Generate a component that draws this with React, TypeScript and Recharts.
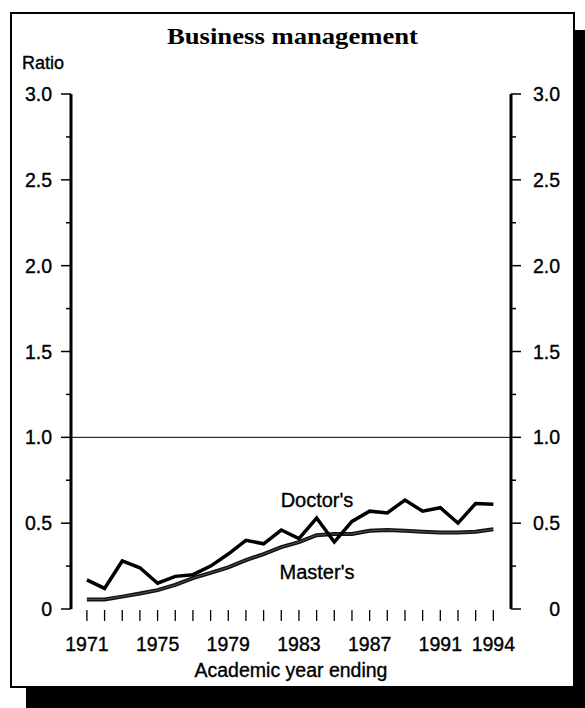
import { LineChart, Line, XAxis, YAxis, ReferenceLine } from "recharts";

const years = [
  1971, 1972, 1973, 1974, 1975, 1976, 1977, 1978, 1979, 1980, 1981, 1982,
  1983, 1984, 1985, 1986, 1987, 1988, 1989, 1990, 1991, 1992, 1993, 1994,
];
const doctors = [
  0.17, 0.12, 0.28, 0.24, 0.15, 0.19, 0.2, 0.25, 0.32, 0.4, 0.38, 0.46,
  0.41, 0.53, 0.39, 0.51, 0.57, 0.56, 0.635, 0.57, 0.59, 0.5, 0.615, 0.61,
];
const masters = [
  0.056, 0.056, 0.072, 0.09, 0.11, 0.14, 0.18, 0.21, 0.243, 0.285, 0.32, 0.36,
  0.39, 0.43, 0.437, 0.437, 0.456, 0.46, 0.456, 0.45, 0.445, 0.445, 0.45, 0.464,
];
const yearLabels = [1971, 1975, 1979, 1983, 1987, 1991, 1994];
const ratioTicks = [0, 0.25, 0.5, 0.75, 1, 1.25, 1.5, 1.75, 2, 2.25, 2.5, 2.75, 3];

const data = years.map((year, i) => ({
  year,
  doctors: doctors[i],
  masters: masters[i],
}));

const SANS = "'Liberation Sans', Arial, Helvetica, sans-serif";
const SERIF = "'Liberation Serif', 'Times New Roman', serif";
// scanned print looks a bit heavier than plain Liberation Sans
const ink = { fill: "#000", stroke: "#000", strokeWidth: 0.35 };

const isMajor = (v: number) => Math.abs(v * 2 - Math.round(v * 2)) < 1e-6;
const fmt = (v: number) => (v === 0 ? "0" : v.toFixed(1));

// x is the outer end of the tick (axis x - 10)
function LeftTick(props: any) {
  const { x, y, payload } = props;
  const v = payload.value;
  const major = isMajor(v);
  return (
    <g>
      <line x1={major ? x : x + 5} x2={x + 10} y1={y} y2={y} stroke="#000" strokeWidth={1.5} />
      {major && (
        <text x={x - 9} y={y + 7} textAnchor="end" fontSize={19.5} fontFamily={SANS} {...ink}>
          {fmt(v)}
        </text>
      )}
    </g>
  );
}

function RightTick(props: any) {
  const { x, y, payload } = props;
  const v = payload.value;
  const major = isMajor(v);
  return (
    <g>
      <line x1={x - 10} x2={major ? x : x - 5} y1={y} y2={y} stroke="#000" strokeWidth={1.5} />
      {major && (
        <text x={x + 39} y={y + 7} textAnchor="end" fontSize={19.5} fontFamily={SANS} {...ink}>
          {fmt(v)}
        </text>
      )}
    </g>
  );
}

function YearTick(props: any) {
  const { x, y, payload } = props;
  const v = payload.value;
  return (
    <g>
      <line x1={x} x2={x} y1={y + 1} y2={y + 12} stroke="#000" strokeWidth={1.3} />
      {yearLabels.includes(v) && (
        <text x={x} y={y + 42} textAnchor="middle" fontSize={19.5} fontFamily={SANS} {...ink}>
          {v}
        </text>
      )}
    </g>
  );
}

export default function App() {
  return (
    <div
      style={{
        position: "absolute",
        left: 0,
        top: 0,
        width: 585,
        height: 708,
        overflow: "hidden",
        background: "#fff",
      }}
    >
      {/* drop shadow and frame */}
      <div style={{ position: "absolute", left: 26, top: 30, width: 580, height: 690, background: "#000" }} />
      <div
        style={{
          position: "absolute",
          left: 10,
          top: 12,
          width: 565,
          height: 676,
          border: "2px solid #000",
          background: "#fff",
          boxSizing: "border-box",
        }}
      />
      <div style={{ position: "absolute", left: 0, top: 0 }}>
        <LineChart
          width={585}
          height={708}
          data={data}
          margin={{ top: 94, right: 24, bottom: 39, left: 21 }}
        >
          <XAxis
            dataKey="year"
            type="number"
            domain={[1970.1, 1995]}
            ticks={years}
            interval={0}
            axisLine={false}
            tickLine={false}
            tickSize={0}
            tickMargin={0}
            height={60}
            tick={<YearTick />}
          />
          <YAxis
            yAxisId="left"
            type="number"
            domain={[0, 3]}
            ticks={ratioTicks}
            interval={0}
            width={50}
            axisLine={{ stroke: "#000", strokeWidth: 3 }}
            tickLine={false}
            tickSize={10}
            tickMargin={0}
            tick={<LeftTick />}
          />
          <YAxis
            yAxisId="right"
            type="number"
            orientation="right"
            domain={[0, 3]}
            ticks={ratioTicks}
            interval={0}
            width={50}
            axisLine={{ stroke: "#000", strokeWidth: 3 }}
            tickLine={false}
            tickSize={10}
            tickMargin={0}
            tick={<RightTick />}
          />
          <ReferenceLine yAxisId="left" y={1} stroke="#000" strokeWidth={1} />
          <Line
            yAxisId="left"
            type="linear"
            dataKey="masters"
            name="Master's"
            stroke="#111"
            strokeWidth={4}
            dot={false}
            isAnimationActive={false}
          />
          <Line
            yAxisId="left"
            type="linear"
            dataKey="masters"
            name="Master's core"
            stroke="#666"
            strokeWidth={0.8}
            dot={false}
            isAnimationActive={false}
          />
          <Line
            yAxisId="right"
            type="linear"
            dataKey="doctors"
            name="Doctor's"
            stroke="#000"
            strokeWidth={3.5}
            dot={false}
            isAnimationActive={false}
          />
        </LineChart>
      </div>
      <svg
        width={585}
        height={708}
        style={{ position: "absolute", left: 0, top: 0, pointerEvents: "none" }}
      >
        <text
          x={167}
          y={44}
          fontSize={24}
          fontWeight="bold"
          fontFamily={SERIF}
          textLength={251}
          lengthAdjust="spacingAndGlyphs"
          fill="#000"
        >
          Business management
        </text>
        <text x={22} y={69} fontSize={18} fontFamily={SANS} {...ink}>
          Ratio
        </text>
        <text x={317} y={507} textAnchor="middle" fontSize={20} fontFamily={SANS} {...ink}>
          Doctor's
        </text>
        <text x={317} y={579} textAnchor="middle" fontSize={20} fontFamily={SANS} {...ink}>
          Master's
        </text>
        <text x={291} y={677} textAnchor="middle" fontSize={19.5} fontFamily={SANS} {...ink}>
          Academic year ending
        </text>
      </svg>
    </div>
  );
}
